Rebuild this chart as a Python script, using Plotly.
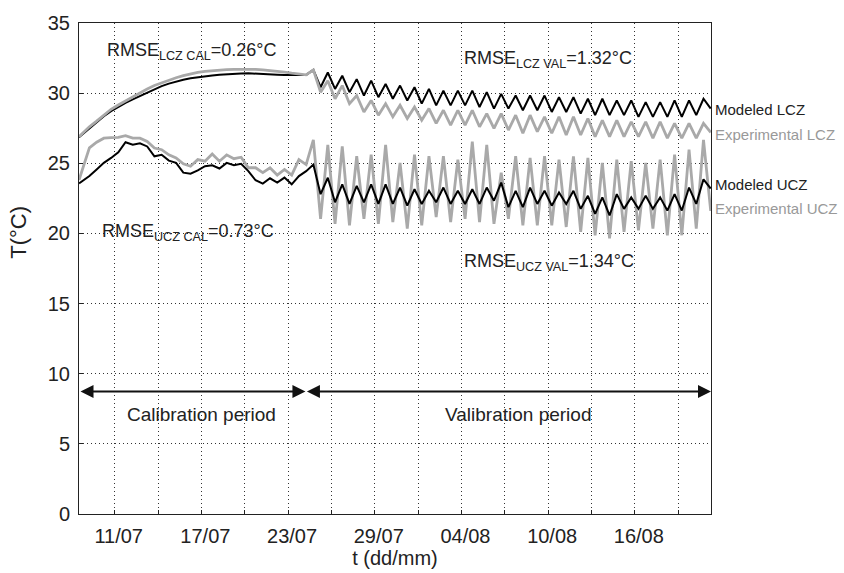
import numpy as np
import plotly.graph_objects as go

# time in days relative to 11/07 00:00
t_days = np.r_[-2.47, np.arange(-1.75, 41.3, 0.5)]

modeled_lcz = [26.85, 27.5, 27.95, 28.35, 28.72, 29.02, 29.3, 29.55, 29.8, 30.05, 30.3, 30.5, 30.68, 30.84, 30.96, 31.06,
               31.14, 31.2, 31.26, 31.31, 31.35, 31.38, 31.4, 31.41, 31.4, 31.38, 31.35, 31.32, 31.29, 31.27, 31.29, 31.3,
               31.66, 30.42, 31.47, 30.30, 31.24, 30.07, 31.0, 29.83, 30.89, 29.71, 30.65, 29.60, 30.54, 29.48, 30.42, 29.25,
               30.30, 29.13, 30.18, 29.13, 30.18, 29.13, 30.18, 29.01, 30.07, 28.90, 29.95, 28.90, 29.83, 28.78, 29.83, 28.78,
               29.83, 28.66, 29.71, 28.66, 29.71, 28.54, 29.60, 28.43, 29.60, 28.43, 29.48, 28.43, 29.48, 28.31, 29.36, 28.31,
               29.36, 28.31, 29.48, 28.31, 29.48, 28.43, 29.60, 28.9]

experimental_lcz = [26.9, 27.6, 28.0, 28.45, 28.85, 29.15, 29.45, 29.75, 30.05, 30.3, 30.55, 30.75, 30.95, 31.1, 31.25, 31.38,
                    31.48, 31.55, 31.6, 31.64, 31.67, 31.69, 31.7, 31.7, 31.69, 31.66, 31.62, 31.56, 31.5, 31.42, 31.36, 31.3,
                    31.66, 30.07, 30.89, 29.60, 30.54, 29.25, 29.83, 28.66, 29.48, 28.43, 29.25, 28.31, 29.13, 28.19, 29.01, 28.07,
                    28.90, 27.84, 28.78, 27.72, 28.78, 27.72, 28.78, 27.60, 28.54, 27.49, 28.54, 27.37, 28.43, 27.14, 28.43, 27.25,
                    28.31, 27.14, 28.31, 27.02, 28.31, 27.02, 28.19, 26.90, 28.07, 26.90, 28.07, 26.90, 27.96, 26.90, 27.96, 26.79,
                    27.96, 26.79, 27.84, 26.79, 27.84, 26.79, 27.84, 27.2]

modeled_ucz = [23.57, 24.09, 24.56, 25.03, 25.38, 25.78, 26.5, 26.32, 26.43, 26.2, 25.5, 25.61, 25.19, 25.03, 24.33, 24.26,
               24.49, 24.79, 24.86, 24.63, 25.03, 24.86, 24.96, 24.44, 23.79, 23.55, 23.93, 23.62, 23.98, 23.5, 24.09, 24.44,
               24.91, 22.8, 23.97, 22.22, 23.5, 22.1, 23.39, 22.22, 23.5, 22.1, 23.5, 22.1, 23.27, 21.98, 23.15, 22.1,
               23.04, 22.22, 23.27, 22.1, 23.04, 22.1, 23.15, 22.1, 23.27, 22.33, 23.62, 21.87, 23.04, 21.87, 23.27, 22.1,
               23.04, 21.98, 22.92, 22.1, 23.04, 21.75, 22.68, 21.39, 22.57, 21.28, 22.8, 21.75, 22.57, 21.75, 22.68, 21.75,
               22.57, 21.63, 22.8, 21.63, 23.27, 22.1, 23.86, 23.2]

experimental_ucz = [23.8, 26.1, 26.5, 26.79, 26.83, 26.85, 26.97, 26.79, 26.79, 26.56, 26.09, 25.97, 25.6, 25.38, 24.96, 24.79,
                    25.26, 25.15, 25.67, 25.15, 25.6, 25.33, 25.43, 24.68, 24.68, 24.33, 24.68, 24.16, 24.56, 24.16, 25.26, 24.91,
                    26.67, 21.04, 26.32, 20.69, 26.20, 20.57, 25.5, 21.04, 25.61, 20.69, 26.32, 20.81, 25.03, 20.34, 25.61, 20.57,
                    25.5, 21.16, 25.5, 20.81, 25.26, 21.04, 26.55, 20.81, 26.32, 20.69, 24.33, 21.04, 25.5, 20.57, 25.38, 20.57,
                    25.5, 20.57, 25.26, 20.46, 25.5, 20.11, 25.38, 19.87, 25.03, 19.64, 25.26, 20.11, 25.15, 20.22, 25.03, 20.34,
                    25.26, 19.87, 25.61, 19.87, 25.97, 20.34, 26.67, 21.6]

label_days = [0, 6, 12, 18, 24, 30, 36]
tick_labels = ["11/07", "17/07", "23/07", "29/07", "04/08", "10/08", "16/08"]
y_ticks = [0, 5, 10, 15, 20, 25, 30, 35]

period_start, period_split, period_end = -2.47, 13.2, 41.27
arrow_level = 8.74

GRAY = "#a9a9a9"
FONT = "Arial, Liberation Sans, sans-serif"
TXT = "#222"

fig = go.Figure()
fig.add_trace(go.Scatter(x=t_days, y=modeled_lcz, mode="lines", line=dict(color="black", width=2)))
fig.add_trace(go.Scatter(x=t_days, y=experimental_lcz, mode="lines", line=dict(color=GRAY, width=2.8)))
fig.add_trace(go.Scatter(x=t_days, y=experimental_ucz, mode="lines", line=dict(color=GRAY, width=2.8)))
fig.add_trace(go.Scatter(x=t_days, y=modeled_ucz, mode="lines", line=dict(color="black", width=2)))

grid_style = dict(showgrid=True, gridcolor="#333", griddash="1px,3px", gridwidth=1)
axis_common = dict(showline=True, linecolor="#222", linewidth=1, mirror=True,
                   ticks="inside", ticklen=4, tickcolor="#222", zeroline=False,
                   tickfont=dict(family=FONT, size=20, color=TXT), **grid_style)

fig.update_layout(
    width=844, height=573,
    margin=dict(l=79, r=133, t=16, b=59),
    plot_bgcolor="white", paper_bgcolor="white",
    showlegend=False,
    font=dict(family=FONT, color=TXT),
    xaxis=dict(range=[period_start, period_end], tickmode="array", tickvals=label_days, ticktext=tick_labels,
               ticklabelshift=4, ticklabelstandoff=4,
               minor=dict(dtick=3, tick0=0, ticks="inside", ticklen=4, tickcolor="#222", **grid_style),
               title=dict(text="t (dd/mm)", font=dict(family=FONT, size=20, color=TXT), standoff=0),
               **axis_common),
    yaxis=dict(range=[0, 35], tickmode="array", tickvals=y_ticks, ticklabelstandoff=4, **axis_common),
)

# y axis title (placed above centre as in the reference)
fig.add_annotation(x=-0.097, y=20.1, xref="paper", yref="y", text="T(°C)", textangle=-90, showarrow=False,
                   xanchor="center", yanchor="middle", font=dict(family=FONT, size=22, color=TXT))

# period arrows
for a, b in [(period_start, period_split), (period_split, period_end)]:
    fig.add_annotation(x=b, y=arrow_level, ax=a, ay=arrow_level, xref="x", yref="y", axref="x", ayref="y",
                       text="", showarrow=True, arrowhead=2, startarrowhead=2, arrowside="end+start",
                       arrowsize=1.3, startarrowsize=1.3, arrowwidth=2, arrowcolor="#111", standoff=0, startstandoff=0)

fig.add_annotation(x=5.98, y=7.12, xref="x", yref="y", text="Calibration period", showarrow=False,
                   font=dict(family=FONT, size=19, color=TXT))
fig.add_annotation(x=27.93, y=7.12, xref="x", yref="y", text="Valibration period", showarrow=False,
                   font=dict(family=FONT, size=19, color=TXT))

rmse = [(-0.67, 33.0, "RMSE<sub>LCZ CAL</sub>=0.26°C"),
        (24.03, 32.4, "RMSE<sub>LCZ VAL</sub>=1.32°C"),
        (-1.02, 20.1, "RMSE<sub>UCZ CAL</sub>=0.73°C"),
        (24.03, 17.95, "RMSE<sub>UCZ VAL</sub>=1.34°C")]
for x, y, txt in rmse:
    fig.add_annotation(x=x, y=y, xref="x", yref="y", text=txt, showarrow=False, xanchor="left", yanchor="middle",
                       font=dict(family=FONT, size=18, color=TXT))

side = [(28.85, "Modeled LCZ", TXT), (27.07, "Experimental LCZ", "#999"),
        (23.5, "Modeled UCZ", TXT), (21.75, "Experimental UCZ", "#999")]
for y, txt, col in side:
    fig.add_annotation(x=1, y=y, xref="paper", yref="y", text=txt, showarrow=False, xanchor="left",
                       xshift=2, font=dict(family=FONT, size=15, color=col))

fig.write_html("out.html")
